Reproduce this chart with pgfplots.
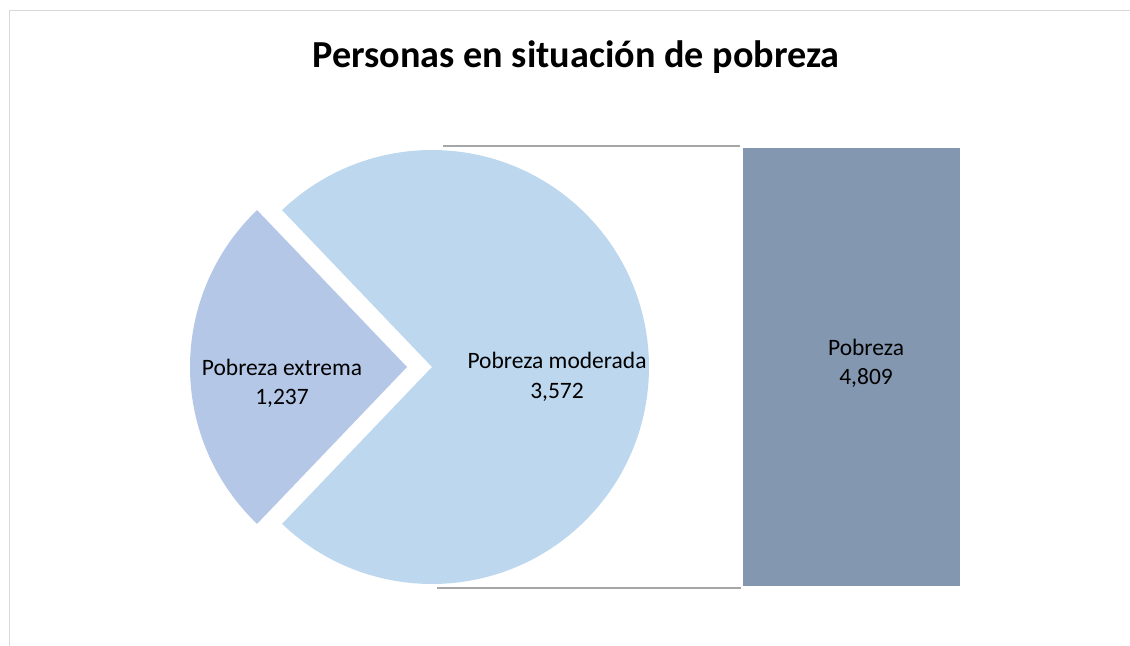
\documentclass[border=0pt]{standalone}
\usepackage{pgfplots}
\pgfplotsset{compat=1.18}
\usepackage{fontspec}
\setmainfont{Carlito}
\definecolor{extr}{HTML}{B4C7E7}
\definecolor{mod}{HTML}{BDD7EE}
\definecolor{barc}{HTML}{8497B0}
\definecolor{conn}{HTML}{A6A6A6}
\definecolor{framec}{HTML}{D9D9D9}
\newcommand{\lbl}{\fontsize{23.5bp}{30bp}\selectfont}
\newcommand{\ttl}{\fontsize{38.2bp}{44bp}\selectfont\bfseries}
\begin{document}
\begin{tikzpicture}
\path[use as bounding box] (0,0) rectangle (1130bp,646bp);
\pgfmathsetmacro{\ext}{1237}
\pgfmathsetmacro{\mdr}{3572}
\pgfmathsetmacro{\half}{\ext/(\ext+\mdr)*180}
\pgfmathsetmacro{\ea}{180-\half}
\pgfmathsetmacro{\eb}{180+\half}
\pgfmathsetmacro{\me}{540-\half}
\begin{axis}[at={(0,0)},anchor=south west,width=1130bp,height=646bp,scale only axis,
  xmin=0,xmax=1130,ymin=0,ymax=646,hide axis,clip=false]
\draw[framec,line width=1.5bp] (axis cs:9.5,0) -- (axis cs:9.5,635.5) -- (axis cs:1130,635.5);
\fill[mod] (axis cs:432,279) -- ++(\eb:217bp) arc[start angle=\eb, end angle=\me, radius=217bp] -- cycle;
\fill[extr] (axis cs:407,279) -- ++(\ea:217bp) arc[start angle=\ea, end angle=\eb, radius=217bp] -- cycle;
\draw[conn,line width=1.5bp] (axis cs:443,500) -- (axis cs:740,500);
\draw[conn,line width=1.5bp] (axis cs:437,58) -- (axis cs:741,58);
\node[anchor=base,inner sep=0,font=\ttl] at (axis cs:576,578) {Personas en situación de pobreza};
\node[anchor=base,inner sep=0,font=\lbl] at (axis cs:282,270) {Pobreza extrema};
\node[anchor=base,inner sep=0,font=\lbl] at (axis cs:282,241) {1,237};
\node[anchor=base,inner sep=0,font=\lbl] at (axis cs:557,277) {Pobreza moderada};
\node[anchor=base,inner sep=0,font=\lbl] at (axis cs:557,247) {3,572};
\end{axis}
\begin{axis}[at={(743bp,60bp)},anchor=south west,width=217bp,height=438bp,scale only axis,
  xmin=0,xmax=1,ymin=0,ymax=4809,hide axis,clip=false]
\addplot[ybar,bar width=217bp,fill=barc,draw=none] coordinates {(0.5,4809)};
\node[anchor=base,inner sep=0,font=\lbl] at (rel axis cs:0.567,0.527) {Pobreza};
\node[anchor=base,inner sep=0,font=\lbl] at (rel axis cs:0.567,0.459) {4,809};
\end{axis}
\end{tikzpicture}
\end{document}
